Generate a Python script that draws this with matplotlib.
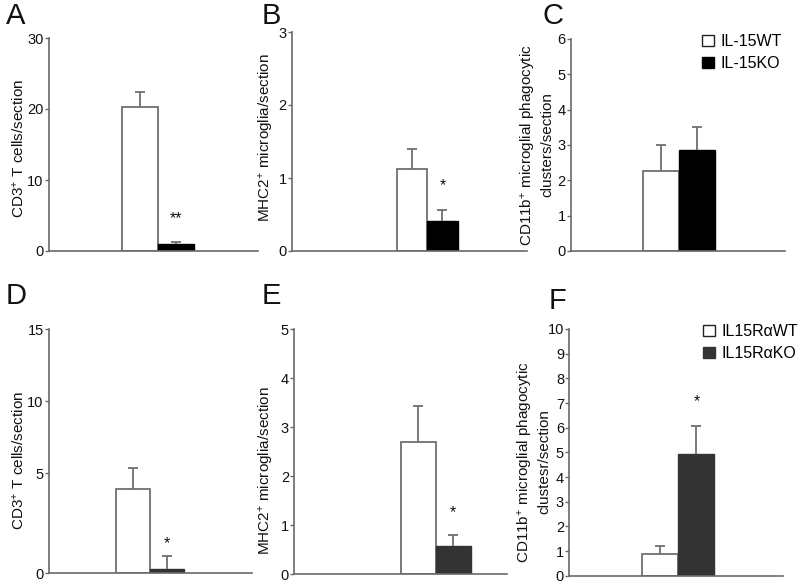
import numpy as np
import matplotlib
matplotlib.use("Agg")
import matplotlib.pyplot as plt
from matplotlib.patches import Patch

plt.rcParams['font.family'] = ['Liberation Sans', 'DejaVu Sans']
plt.rcParams['mathtext.fontset'] = 'custom'
plt.rcParams['mathtext.rm'] = 'Liberation Sans'
plt.rcParams['mathtext.it'] = 'Liberation Sans'

# ---------------- data ----------------
groups_top = ["IL-15WT", "IL-15KO"]
groups_bot = ["IL15R\u03b1WT", "IL15R\u03b1KO"]

a_vals = [20.3, 1.0]
a_err = [2.1, 0.22]
b_vals = [1.13, 0.415]
b_err = [0.27, 0.145]
c_vals = [2.26, 2.85]
c_err = [0.73, 0.67]
d_vals = [4.2, 0.2]
d_err = [1.15, 0.67]
e_vals = [2.70, 0.58]
e_err = [0.73, 0.22]
f_vals = [0.87, 4.95]
f_err = [0.33, 1.13]

# significance marks: (text, y value) over KO bar
a_sig = ("**", 4.5)
b_sig = ("*", 0.9)
d_sig = ("*", 1.5)
e_sig = ("*", 1.26)
f_sig = ("*", 7.04)

a_ticks = [0, 10, 20, 30]
b_ticks = [0, 1, 2, 3]
c_ticks = [0, 1, 2, 3, 4, 5, 6]
d_ticks = [0, 5, 10, 15]
e_ticks = [0, 1, 2, 3, 4, 5]
f_ticks = list(range(0, 11))

ylab_cd3 = "CD3$^{+}$ T cells/section"
ylab_mhc = "MHC2$^{+}$ microglia/section"
ylab_c = "CD11b$^{+}$ microglial phagocytic\nclusters/section"
ylab_f = "CD11b$^{+}$ microglial phagocytic\nclustesr/section"

# ---------------- layout ----------------
W, H = 800, 587
fig = plt.figure(figsize=(W / 100, H / 100), dpi=100)

def rect(l, r, t, b):
    return [l / W, 1 - b / H, (r - l) / W, (b - t) / H]

def fpos(x, y):
    return x / W, 1 - y / H

SPINE = '#6a6a6a'
EDGE = '#707070'

def panel(r, xlim, vals, errs, ticks, ko_color, sig=None, scale=None):
    ax = fig.add_axes(r)
    if scale is not None:
        ax.set_yscale('function', functions=scale)
    x = np.array([0.0, 1.0])
    ax.bar(x[0], vals[0], width=1.0, color='white', edgecolor=EDGE, linewidth=1.3, zorder=2)
    ax.bar(x[1], vals[1], width=1.0, color=ko_color, edgecolor=ko_color, linewidth=1.0, zorder=2)
    _, caps, _ = ax.errorbar(x, vals, yerr=[np.zeros(2), errs], fmt='none',
                             ecolor=EDGE, elinewidth=1.3, capsize=3.5, capthick=1.3, zorder=3)
    caps[0].set_visible(False)
    ax.set_xlim(*xlim)
    ax.set_ylim(ticks[0], ticks[-1])
    ax.set_yticks(ticks)
    ax.set_yticklabels([str(t) for t in ticks])
    ax.set_xticks([])
    for s in ['top', 'right']:
        ax.spines[s].set_visible(False)
    for s in ['left', 'bottom']:
        ax.spines[s].set_color(SPINE)
        ax.spines[s].set_linewidth(1.2)
    ax.tick_params(axis='y', length=3, width=1.0, color=SPINE, labelsize=10.5,
                   pad=0.8, labelcolor='#111111')
    ax.patch.set_alpha(0)
    if sig is not None:
        ax.text(x[1], sig[1], sig[0], ha='center', va='center', fontsize=11.5, color='#111111')
    return ax

# piecewise scale of panel D axis
def d_fwd(y):
    y = np.asarray(y, dtype=float)
    return np.where(y <= 5, y * 20.0, 100.0 + (y - 5) * 14.4)

def d_inv(u):
    u = np.asarray(u, dtype=float)
    return np.where(u <= 100, u / 20.0, 5 + (u - 100) / 14.4)

axA = panel(rect(49, 258, 38, 251), (-2.53, 3.28), a_vals, a_err, a_ticks, 'black', a_sig)
axB = panel(rect(292, 527, 32, 251), (-3.93, 3.77), b_vals, b_err, b_ticks, 'black', b_sig)
axC = panel(rect(571, 785, 39, 251), (-2.49, 3.46), c_vals, c_err, c_ticks, 'black')
axD = panel(rect(49, 252, 329.3, 573.3), (-2.47, 3.5), d_vals, d_err, d_ticks, '#333333', d_sig,
            scale=(d_fwd, d_inv))
axE = panel(rect(294.3, 506.7, 329.3, 574), (-3.53, 2.53), e_vals, e_err, e_ticks, '#333333', e_sig)
axF = panel(rect(569.3, 783.3, 329, 575.7), (-2.53, 3.41), f_vals, f_err, f_ticks, '#333333', f_sig)

# y labels
LAB = dict(rotation=90, ha='center', va='center', fontsize=11, color='#111111')
fig.text(*fpos(19, 148), ylab_cd3, **LAB)
fig.text(*fpos(266, 138), ylab_mhc, **LAB)
fig.text(*fpos(537, 145), ylab_c, linespacing=1.2, **LAB)
fig.text(*fpos(19, 460), ylab_cd3, **LAB)
fig.text(*fpos(267, 471), ylab_mhc, **LAB)
fig.text(*fpos(534, 462), ylab_f, linespacing=1.2, **LAB)

# panel letters
PL = dict(fontsize=21, ha='left', va='center', color='#111111')
for letter, (px, py) in zip("ABCDEF", [(6, 16), (262, 16), (543, 16), (6, 296), (262, 296), (549, 301)]):
    fig.text(*fpos(px, py), letter, **PL)

# legends
def legend(labels, ko_color, x, y):
    handles = [Patch(facecolor='white', edgecolor='#222222', linewidth=1.0),
               Patch(facecolor=ko_color, edgecolor=ko_color)]
    fig.legend(handles, labels, loc='upper left', bbox_to_anchor=fpos(x, y),
               frameon=False, fontsize=11.5, handlelength=0.75, handleheight=0.75,
               handletextpad=0.4, borderpad=0, borderaxespad=0, labelspacing=0.45)

legend(groups_top, 'black', 702, 34)
legend(groups_bot, '#333333', 703, 324)

fig.savefig("out.png", dpi=100)
